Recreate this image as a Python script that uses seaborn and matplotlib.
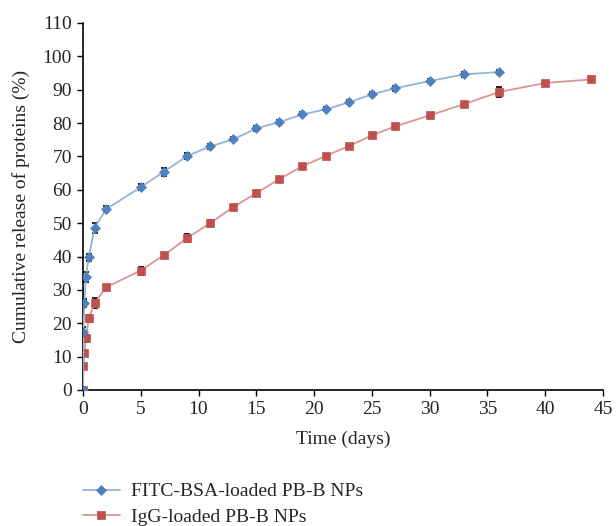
import matplotlib
matplotlib.use("Agg")
import matplotlib.pyplot as plt
import seaborn as sns
import pandas as pd
import numpy as np

# Data
bsa_time = [0, 0.042, 0.125, 0.25, 0.5, 1, 2, 5, 7, 9, 11, 13, 15, 17, 19, 21, 23, 25, 27, 30, 33, 36]
bsa_release = [0, 17.5, 26.0, 34.0, 39.8, 48.5, 54.2, 60.8, 65.4, 70.1, 73.0, 75.1, 78.4, 80.3, 82.6, 84.1, 86.2, 88.6, 90.4, 92.6, 94.6, 95.3]
bsa_err = [0, 1.5, 1.2, 1.5, 1.0, 1.5, 0.8, 1.0, 1.2, 1.0, 0.8, 0.6, 0.8, 0.6, 0.6, 0.6, 0.6, 0.6, 0.8, 0.6, 0.8, 0.6]

igg_time = [0, 0.042, 0.125, 0.25, 0.5, 1, 2, 5, 7, 9, 11, 13, 15, 17, 19, 21, 23, 25, 27, 30, 33, 36, 40, 44]
igg_release = [0, 7.2, 11.0, 15.5, 21.5, 26.0, 30.8, 35.8, 40.4, 45.5, 50.0, 54.8, 59.0, 63.2, 67.1, 70.1, 73.1, 76.3, 79.0, 82.3, 85.7, 89.3, 92.0, 93.1]
igg_err = [0, 0.5, 0.5, 1.0, 1.0, 1.5, 0.5, 1.2, 0.5, 1.2, 1.0, 0.5, 0.5, 0.5, 0.5, 0.5, 0.5, 0.5, 0.5, 0.8, 0.5, 1.5, 0.5, 0.5]

labels = ["FITC-BSA-loaded PB-B NPs", "IgG-loaded PB-B NPs"]
line_colors = ["#95B3D7", "#D99694"]
marker_colors = ["#4F81BD", "#C0504D"]

sns.set_theme(style="white")
plt.rcParams["font.family"] = ["Liberation Serif", "DejaVu Serif"]

df = pd.concat([
    pd.DataFrame({"Time": bsa_time, "Release": bsa_release, "Series": labels[0]}),
    pd.DataFrame({"Time": igg_time, "Release": igg_release, "Series": labels[1]}),
], ignore_index=True)

fig = plt.figure(figsize=(6.16, 5.26), dpi=100)
ax = fig.add_axes([0.1347, 0.2586, 0.844, 0.6977])

errs = [bsa_err, igg_err]
markers = ["D", "s"]
msizes = [4.6, 5.2]
for i, lab in enumerate(labels):
    sub = df[df["Series"] == lab]
    ax.errorbar(sub["Time"], sub["Release"], yerr=errs[i], fmt="none",
                ecolor="black", elinewidth=1.0, capsize=2.5, capthick=1.2, zorder=2)
    sns.lineplot(data=sub, x="Time", y="Release", ax=ax, color=line_colors[i],
                 linewidth=1.3, marker=markers[i], markersize=msizes[i],
                 markerfacecolor=marker_colors[i], markeredgecolor=marker_colors[i],
                 markeredgewidth=0.5,
                 label=lab, zorder=3 + (1 - i), legend=False)

ax.set_xlim(0, 45)
ax.set_ylim(0, 110)
ax.set_xticks(range(0, 46, 5))
ax.set_yticks(range(0, 111, 10))
ax.set_xlabel("Time (days)", fontsize=14, labelpad=9)
ax.set_ylabel("Cumulative release of proteins (%)", fontsize=14, labelpad=9)
ax.tick_params(axis="both", labelsize=14, direction="out", length=4, width=1,
               color="black", bottom=True, left=True, pad=4)
for s in ["top", "right"]:
    ax.spines[s].set_visible(False)
for s in ["left", "bottom"]:
    ax.spines[s].set_color("black")
    ax.spines[s].set_linewidth(1.2)

handles, lbls = ax.get_legend_handles_labels()
leg = fig.legend(handles, lbls, loc="upper left", bbox_to_anchor=(0.122, 0.097),
                 frameon=False, fontsize=14, handlelength=1.9, handletextpad=0.55,
                 labelspacing=0.4, borderaxespad=0)

fig.savefig("out.png", dpi=100)
